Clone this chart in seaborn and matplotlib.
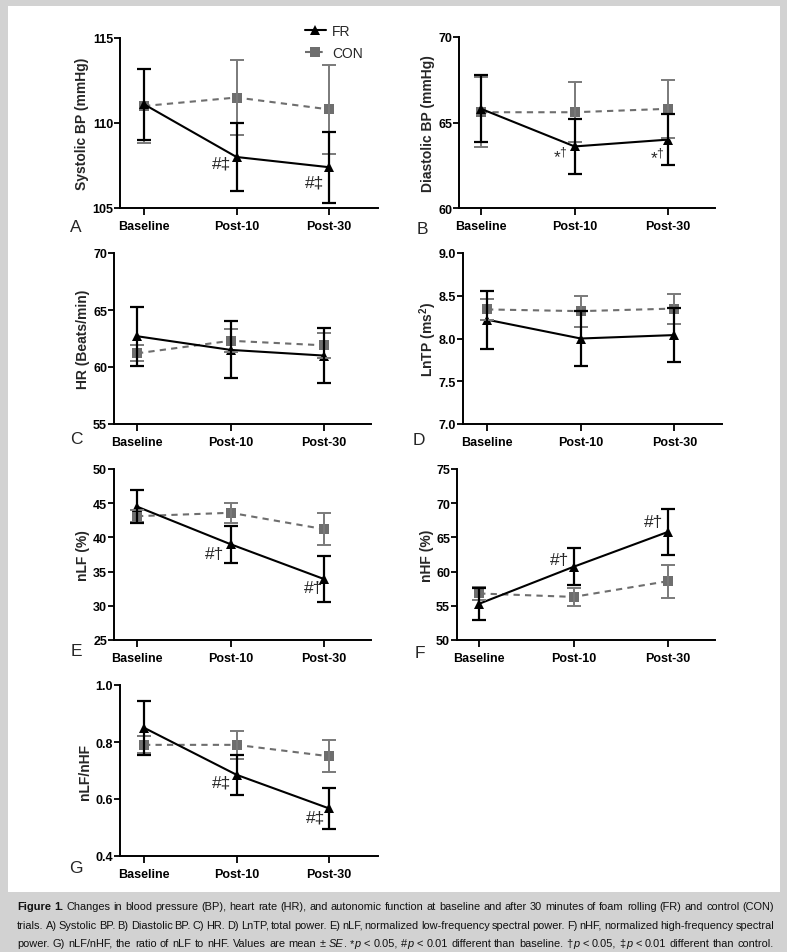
import numpy as np
import pandas as pd
import matplotlib
matplotlib.use("Agg")
import matplotlib.pyplot as plt
import seaborn as sns
from matplotlib import font_manager
from matplotlib.lines import Line2D
from matplotlib.patches import Rectangle

# categories
times = ["Baseline", "Post-10", "Post-30"]

# means and SE
sys_fr = [111.1, 108.0, 107.4]
sys_fr_se = [2.1, 2.0, 2.1]
sys_con = [111.0, 111.5, 110.8]
sys_con_se = [2.2, 2.2, 2.6]

dia_fr = [65.8, 63.6, 64.0]
dia_fr_se = [1.95, 1.6, 1.5]
dia_con = [65.6, 65.6, 65.8]
dia_con_se = [2.05, 1.75, 1.7]

hr_fr = [62.7, 61.5, 61.0]
hr_fr_se = [2.6, 2.5, 2.4]
hr_con = [61.2, 62.3, 61.9]
hr_con_se = [0.7, 1.0, 1.1]

tp_fr = [8.22, 8.00, 8.04]
tp_fr_se = [0.34, 0.32, 0.32]
tp_con = [8.34, 8.32, 8.35]
tp_con_se = [0.12, 0.18, 0.175]

lf_fr = [44.5, 39.0, 33.9]
lf_fr_se = [2.4, 2.7, 3.4]
lf_con = [43.1, 43.6, 41.2]
lf_con_se = [0.85, 1.5, 2.35]

hf_fr = [55.3, 60.7, 65.8]
hf_fr_se = [2.35, 2.7, 3.4]
hf_con = [56.8, 56.3, 58.6]
hf_con_se = [0.9, 1.3, 2.4]

ratio_fr = [0.85, 0.685, 0.567]
ratio_fr_se = [0.094, 0.07, 0.073]
ratio_con = [0.79, 0.79, 0.75]
ratio_con_se = [0.03, 0.05, 0.057]

# significance marks next to the FR points
marks_sys = ["", "#‡", "#‡"]
marks_dia = ["", r"*$^{\dagger}$", r"*$^{\dagger}$"]
marks_lf = ["", "#†", "#†"]
marks_hf = ["", "#†", "#†"]
marks_ratio = ["", "#‡", "#‡"]

sns.set_theme(style="ticks")
plt.rcParams["font.family"] = ["Liberation Sans", "DejaVu Sans"]
plt.rcParams["mathtext.fontset"] = "custom"
plt.rcParams["mathtext.rm"] = "Liberation Sans"
plt.rcParams["mathtext.bf"] = "Liberation Sans:bold"

W, H = 787, 953
fig = plt.figure(figsize=(W / 100, H / 100), dpi=100, facecolor="#d2d2d2")
fig.patches.append(Rectangle((8 / W, 1 - 893 / H), 772 / W, 886 / H,
                             transform=fig.transFigure, facecolor="white",
                             edgecolor="none", zorder=-1))

FR_C = "black"
CON_C = "#6e6e6e"


def rect(l, t, r, b):
    return [l / W, 1 - b / H, (r - l) / W, (b - t) / H]


# label, data, ticks, tick format, marks, box(px), xlim, label x, letter pos, mark offsets(px)
panels = [
    ("Systolic BP (mmHg)", sys_fr, sys_fr_se, sys_con, sys_con_se, [105, 110, 115], "{:.0f}",
     marks_sys, (120, 39, 378, 209), (-0.26, 2.53), 82, "A", (76, 228), [(0, 0), (-15, -6), (-14, -15)]),
    ("Diastolic BP (mmHg)", dia_fr, dia_fr_se, dia_con, dia_con_se, [60, 65, 70], "{:.0f}",
     marks_dia, (459, 38, 715, 209), (-0.235, 2.5), 428, "B", (422, 230), [(0, 0), (-14, -9), (-11, -17)]),
    ("HR (Beats/min)", hr_fr, hr_fr_se, hr_con, hr_con_se, [55, 60, 65, 70], "{:.0f}",
     None, (114, 254, 371, 425), (-0.246, 2.5), 83, "C", (76, 440), None),
    (r"LnTP (ms$^\mathbf{2}$)", tp_fr, tp_fr_se, tp_con, tp_con_se, [7.0, 7.5, 8.0, 8.5, 9.0], "{:.1f}",
     None, (463, 254, 722, 425), (-0.257, 2.51), 428, "D", (419, 441), None),
    ("nLF (%)", lf_fr, lf_fr_se, lf_con, lf_con_se, [25, 30, 35, 40, 45, 50], "{:.0f}",
     marks_lf, (114, 470, 371, 641), (-0.246, 2.5), 83, "E", (76, 652), [(0, 0), (-16, -9), (-11, -8)]),
    ("nHF (%)", hf_fr, hf_fr_se, hf_con, hf_con_se, [50, 55, 60, 65, 70, 75], "{:.0f}",
     marks_hf, (457, 470, 715, 641), (-0.235, 2.5), 427, "F", (420, 654), [(0, 0), (-14, 7), (-14, 10)]),
    ("nLF/nHF", ratio_fr, ratio_fr_se, ratio_con, ratio_con_se, [0.4, 0.6, 0.8, 1.0], "{:.1f}",
     marks_ratio, (120, 686, 378, 857), (-0.26, 2.53), 85, "G", (76, 869), [(0, 0), (-15, -7), (-13, -9)]),
]

x = np.arange(len(times))
for (label, fr, fr_se, con, con_se, yticks, fmt, marks, box, xlim, lab_x,
     letter, let_pos, offs) in panels:
    ax = fig.add_axes(rect(*box))
    ax.set_facecolor("none")
    df = pd.DataFrame({
        "time": np.tile(x, 2),
        "group": ["CON"] * 3 + ["FR"] * 3,
        "mean": con + fr,
        "se": con_se + fr_se,
    })
    sns.lineplot(data=df, x="time", y="mean", hue="group", style="group",
                 hue_order=["CON", "FR"], style_order=["CON", "FR"],
                 palette={"FR": FR_C, "CON": CON_C},
                 markers={"FR": "^", "CON": "s"},
                 dashes={"FR": "", "CON": (3, 2.5)},
                 markersize=6.5, markeredgewidth=0, linewidth=1.5,
                 legend=False, ax=ax)
    ax.errorbar(x, con, yerr=con_se, fmt="none", ecolor="#7a7a7a",
                elinewidth=1.4, capsize=5, capthick=1.4, zorder=3)
    ax.errorbar(x, fr, yerr=fr_se, fmt="none", ecolor=FR_C,
                elinewidth=1.6, capsize=5, capthick=1.6, zorder=4)

    ax.set_xlim(*xlim)
    ax.set_ylim(yticks[0], yticks[-1])
    ax.set_xticks(x, times, fontweight="bold", fontsize=9)
    ax.set_yticks(yticks, [fmt.format(v) for v in yticks], fontweight="bold", fontsize=9)
    ax.tick_params(axis="y", direction="out", length=4, width=1.3, pad=1, colors="black")
    ax.tick_params(axis="x", direction="out", length=5, width=1.3, pad=4, colors="black")
    for s in ["top", "right"]:
        ax.spines[s].set_visible(False)
    for s in ["left", "bottom"]:
        ax.spines[s].set_linewidth(1.4)
        ax.spines[s].set_color("black")
    ax.set_xlabel("")
    ax.set_ylabel(label, fontweight="bold", fontsize=10, va="center")
    ax.yaxis.set_label_coords(lab_x / W, 1 - ((box[1] + box[3]) / 2) / H,
                              transform=fig.transFigure)

    if marks is not None:
        for i, m in enumerate(marks):
            if m:
                ax.annotate(m, (x[i], fr[i]), xytext=offs[i], textcoords="offset pixels",
                            ha="center", va="center", fontsize=12.5)

    fig.text(let_pos[0] / W, 1 - let_pos[1] / H, letter, fontsize=12.5,
             ha="center", va="center")

# legend
handles = [
    Line2D([], [], color=FR_C, marker="^", markersize=6.5, markeredgewidth=0, lw=1.5),
    Line2D([], [], color=CON_C, marker="s", markersize=6.5, markeredgewidth=0, lw=1.5,
           ls=(0, (3, 2.5))),
]
fig.legend(handles, ["FR", "CON"], loc="upper left", bbox_to_anchor=(305 / W, 1 - 25 / H),
           frameon=False, fontsize=10, handlelength=1.5, handletextpad=0.45,
           labelspacing=0.55, borderpad=0, borderaxespad=0)

# caption, justified word by word
names = {f.name for f in font_manager.fontManager.ttflist}
cap_font = "Liberation Sans Narrow" if "Liberation Sans Narrow" in names else "Liberation Sans"

caption = [
    "^Figure 1.^ Changes in blood pressure (BP), heart rate (HR), and autonomic function at baseline and after 30 minutes of foam rolling (FR) and control (CON)",
    "trials. A) Systolic BP. B) Diastolic BP. C) HR. D) LnTP, total power. E) nLF, normalized low-frequency spectral power. F) nHF, normalized high-frequency spectral",
    "power. G) nLF/nHF, the ratio of nLF to nHF. Values are mean ± ~SE~. *~p~ < 0.05, #~p~ < 0.01 different than baseline. †~p~ < 0.05, ‡~p~ < 0.01 different than control.",
]
cap_y = [910, 929, 947]
x0, x1 = 17, 774


def parse(line, state):
    words, segs, buf = [], [], ""
    for ch in line:
        if ch in "^~ ":
            if buf:
                segs.append((buf, state["b"], state["i"]))
                buf = ""
            if ch == "^":
                state["b"] = not state["b"]
            elif ch == "~":
                state["i"] = not state["i"]
            else:
                words.append(segs)
                segs = []
        else:
            buf += ch
    if buf:
        segs.append((buf, state["b"], state["i"]))
    if segs:
        words.append(segs)
    return words


renderer = fig.canvas.get_renderer()


def place_line(words, yy, size, draw=True):
    placed = []
    for segs in words:
        ts = []
        for txt, b, it in segs:
            t = fig.text(0, 1 - yy / H, txt, fontsize=size, family=cap_font,
                         fontweight="bold" if b else "normal",
                         style="italic" if it else "normal", va="baseline",
                         color="#111111")
            ts.append((t, t.get_window_extent(renderer).width))
        placed.append(ts)
    widths = [sum(w for _, w in ts) for ts in placed]
    if not draw:
        for ts in placed:
            for t, _ in ts:
                t.remove()
        return sum(widths), len(widths)
    gap = (x1 - x0 - sum(widths)) / (len(placed) - 1)
    xx = x0
    for ts, wd in zip(placed, widths):
        xs = xx
        for t, w in ts:
            t.set_x(xs / W)
            xs += w
        xx += wd + gap


# find a size where the natural width fits the column
state = {"b": False, "i": False}
parsed = [parse(line, state) for line in caption]
probe = fig.text(0, 0, "a b", fontsize=10, family=cap_font)
sp = probe.get_window_extent(renderer).width
probe.set_text("ab")
sp -= probe.get_window_extent(renderer).width
probe.remove()
scales = []
for words in parsed:
    tot, n = place_line(words, 0, 10, draw=False)
    scales.append((x1 - x0) / (tot + (n - 1) * sp))
cap_size = 10 * min(scales) * 1.03

for words, yy in zip(parsed, cap_y):
    place_line(words, yy, cap_size)

fig.savefig("out.png", dpi=100, facecolor=fig.get_facecolor())
